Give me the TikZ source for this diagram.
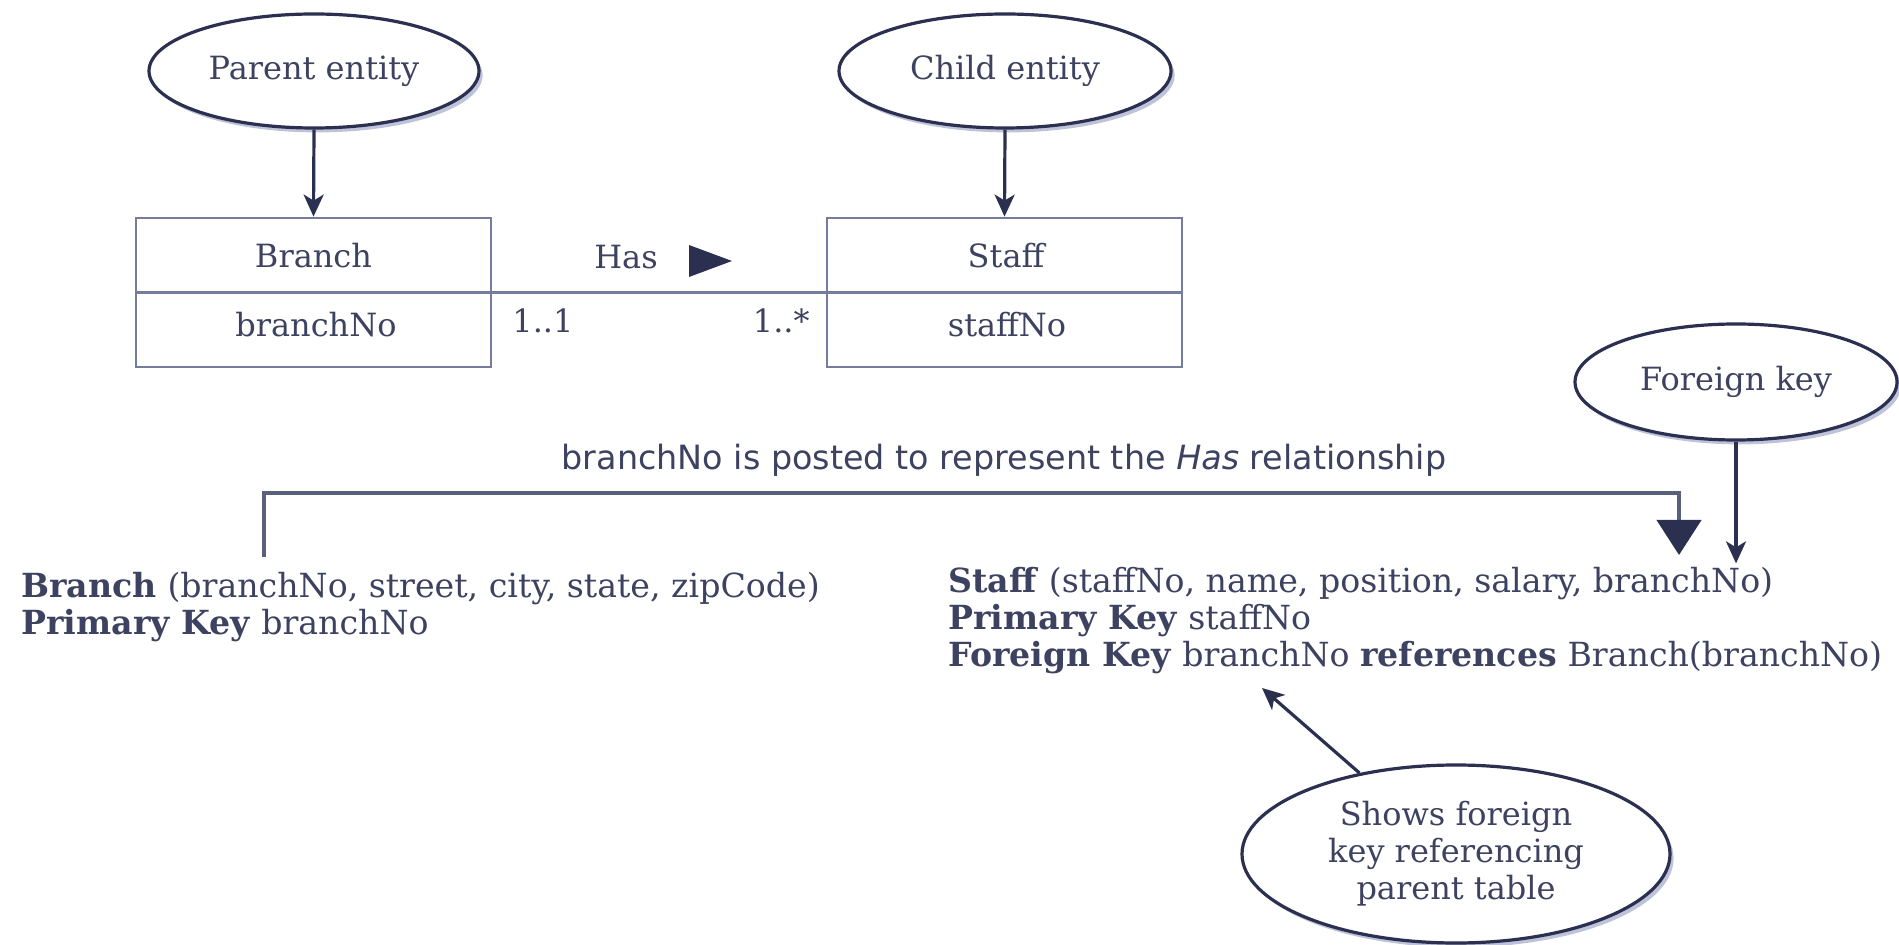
\documentclass[tikz,border=0pt]{standalone}
\usepackage{fontspec}
\setmainfont{DejaVu Serif}
\newfontfamily\postfont{DejaVu Sans}
\usetikzlibrary{shapes.geometric,arrows.meta,shadows,calc}
\definecolor{inkc}{HTML}{2B3050}
\definecolor{boxc}{HTML}{767C9E}
\definecolor{txtc}{HTML}{3D4260}
\definecolor{postc}{HTML}{5A607C}
\definecolor{shadc}{HTML}{AEB4D0}
\begin{document}
\begin{tikzpicture}[x=0.5pt,y=-0.5pt,
  every node/.style={text=txtc, font=\fontsize{16pt}{18.5pt}\selectfont},
  bubble/.style={ellipse, draw=inkc, line width=1.6pt, fill=white, inner sep=0pt, align=center,
    drop shadow={shadow xshift=1.8pt, shadow yshift=-2.2pt, fill=shadc, opacity=0.8}},
  entbox/.style={draw=boxc, line width=1.4pt, minimum width=177.5pt, minimum height=74.5pt, inner sep=0pt},
  boxline/.style={draw=boxc, line width=1.4pt},
  conn/.style={draw=inkc, line width=1.6pt, -{Stealth[length=11pt,width=10pt,inset=3pt]}},
  posted/.style={draw=postc, line width=2.2pt, -{Triangle[length=17.5pt,width=22pt,color=inkc]}},
  reltext/.style={anchor=base west, inner sep=0pt, font=\fontsize{16.6pt}{18.5pt}\selectfont},
  txt/.style={anchor=base, inner sep=0pt}
]
\fill[white] (0,0) rectangle (1899,945);
\useasboundingbox (0,0) rectangle (1899,945);

% top ellipses
\node[bubble, minimum width=165pt, minimum height=57pt] (parent) at (314,71) {Parent entity};
\node[bubble, minimum width=166pt, minimum height=57pt] (child) at (1005,71) {Child entity};

% entity boxes
\node[entbox] (branchbox) at (313.5,292.5) {};
\node[entbox] (staffbox) at (1004.5,292.5) {};
\draw[boxline] (branchbox.west) -- (branchbox.east);
\draw[boxline] (staffbox.west) -- (staffbox.east);
\draw[boxline] (branchbox.east) -- (staffbox.west);

\node[txt] (brname) at (313.5,268) {Branch};
\node[txt] (brkey) at (316,337) {branchNo};
\node[txt] (stname) at (1006,268) {Staff};
\node[txt] (stkey) at (1007,337) {staffNo};

\node[txt] (has) at (626,269) {Has};
\fill[inkc] (689,245) -- (689,277) -- (732,261) -- cycle;
\node[anchor=base west, inner sep=0pt] (mult1) at (512,333) {1..1};
\node[anchor=base east, inner sep=0pt] (mult2) at (810,333) {1..*};

\draw[conn] (parent.south) -- (branchbox.north);
\draw[conn] (child.south) -- (staffbox.north);

% foreign key ellipse
\node[bubble, minimum width=161pt, minimum height=58pt] (fk) at (1736,382) {Foreign key};

% posted label
\node[anchor=base, inner sep=0pt, text=txtc, font=\postfont\fontsize{16.7pt}{18pt}\selectfont] (post) at (1004,470)
  {branchNo is posted to represent the \textit{Has} relationship};

% relations
\node[reltext] (brel) at (21,597) {\textbf{Branch} (branchNo, street, city, state, zipCode)};
\node[reltext] (bpk) at (21,634) {\textbf{Primary Key} branchNo};
\node[reltext] (srel) at (948,593) {\textbf{Staff} (staffNo, name, position, salary, branchNo)};
\node[reltext] (spk) at (948,630) {\textbf{Primary Key} staffNo};
\node[reltext] (sfk) at (948,667) {\textbf{Foreign Key} branchNo \textbf{references} Branch(branchNo)};

% posted connector
\coordinate (pstart) at (264,557);
\coordinate (pturn) at (1679,493);
\coordinate (pend) at (1679,555);
\draw[posted] (pstart) |- (pturn) -- (pend);

\draw[conn, shorten >=2pt] (fk.south) -- (fk.south |- srel.north);

% shows ellipse
\node[bubble, minimum width=214pt, minimum height=89pt, font=\fontsize{16pt}{18.5pt}\selectfont] (shows) at (1456,854)
  {Shows foreign\\key referencing\\parent table};
\coordinate (stip) at (1262,688);
\draw[conn] (shows.140) -- (stip);
\end{tikzpicture}
\end{document}
